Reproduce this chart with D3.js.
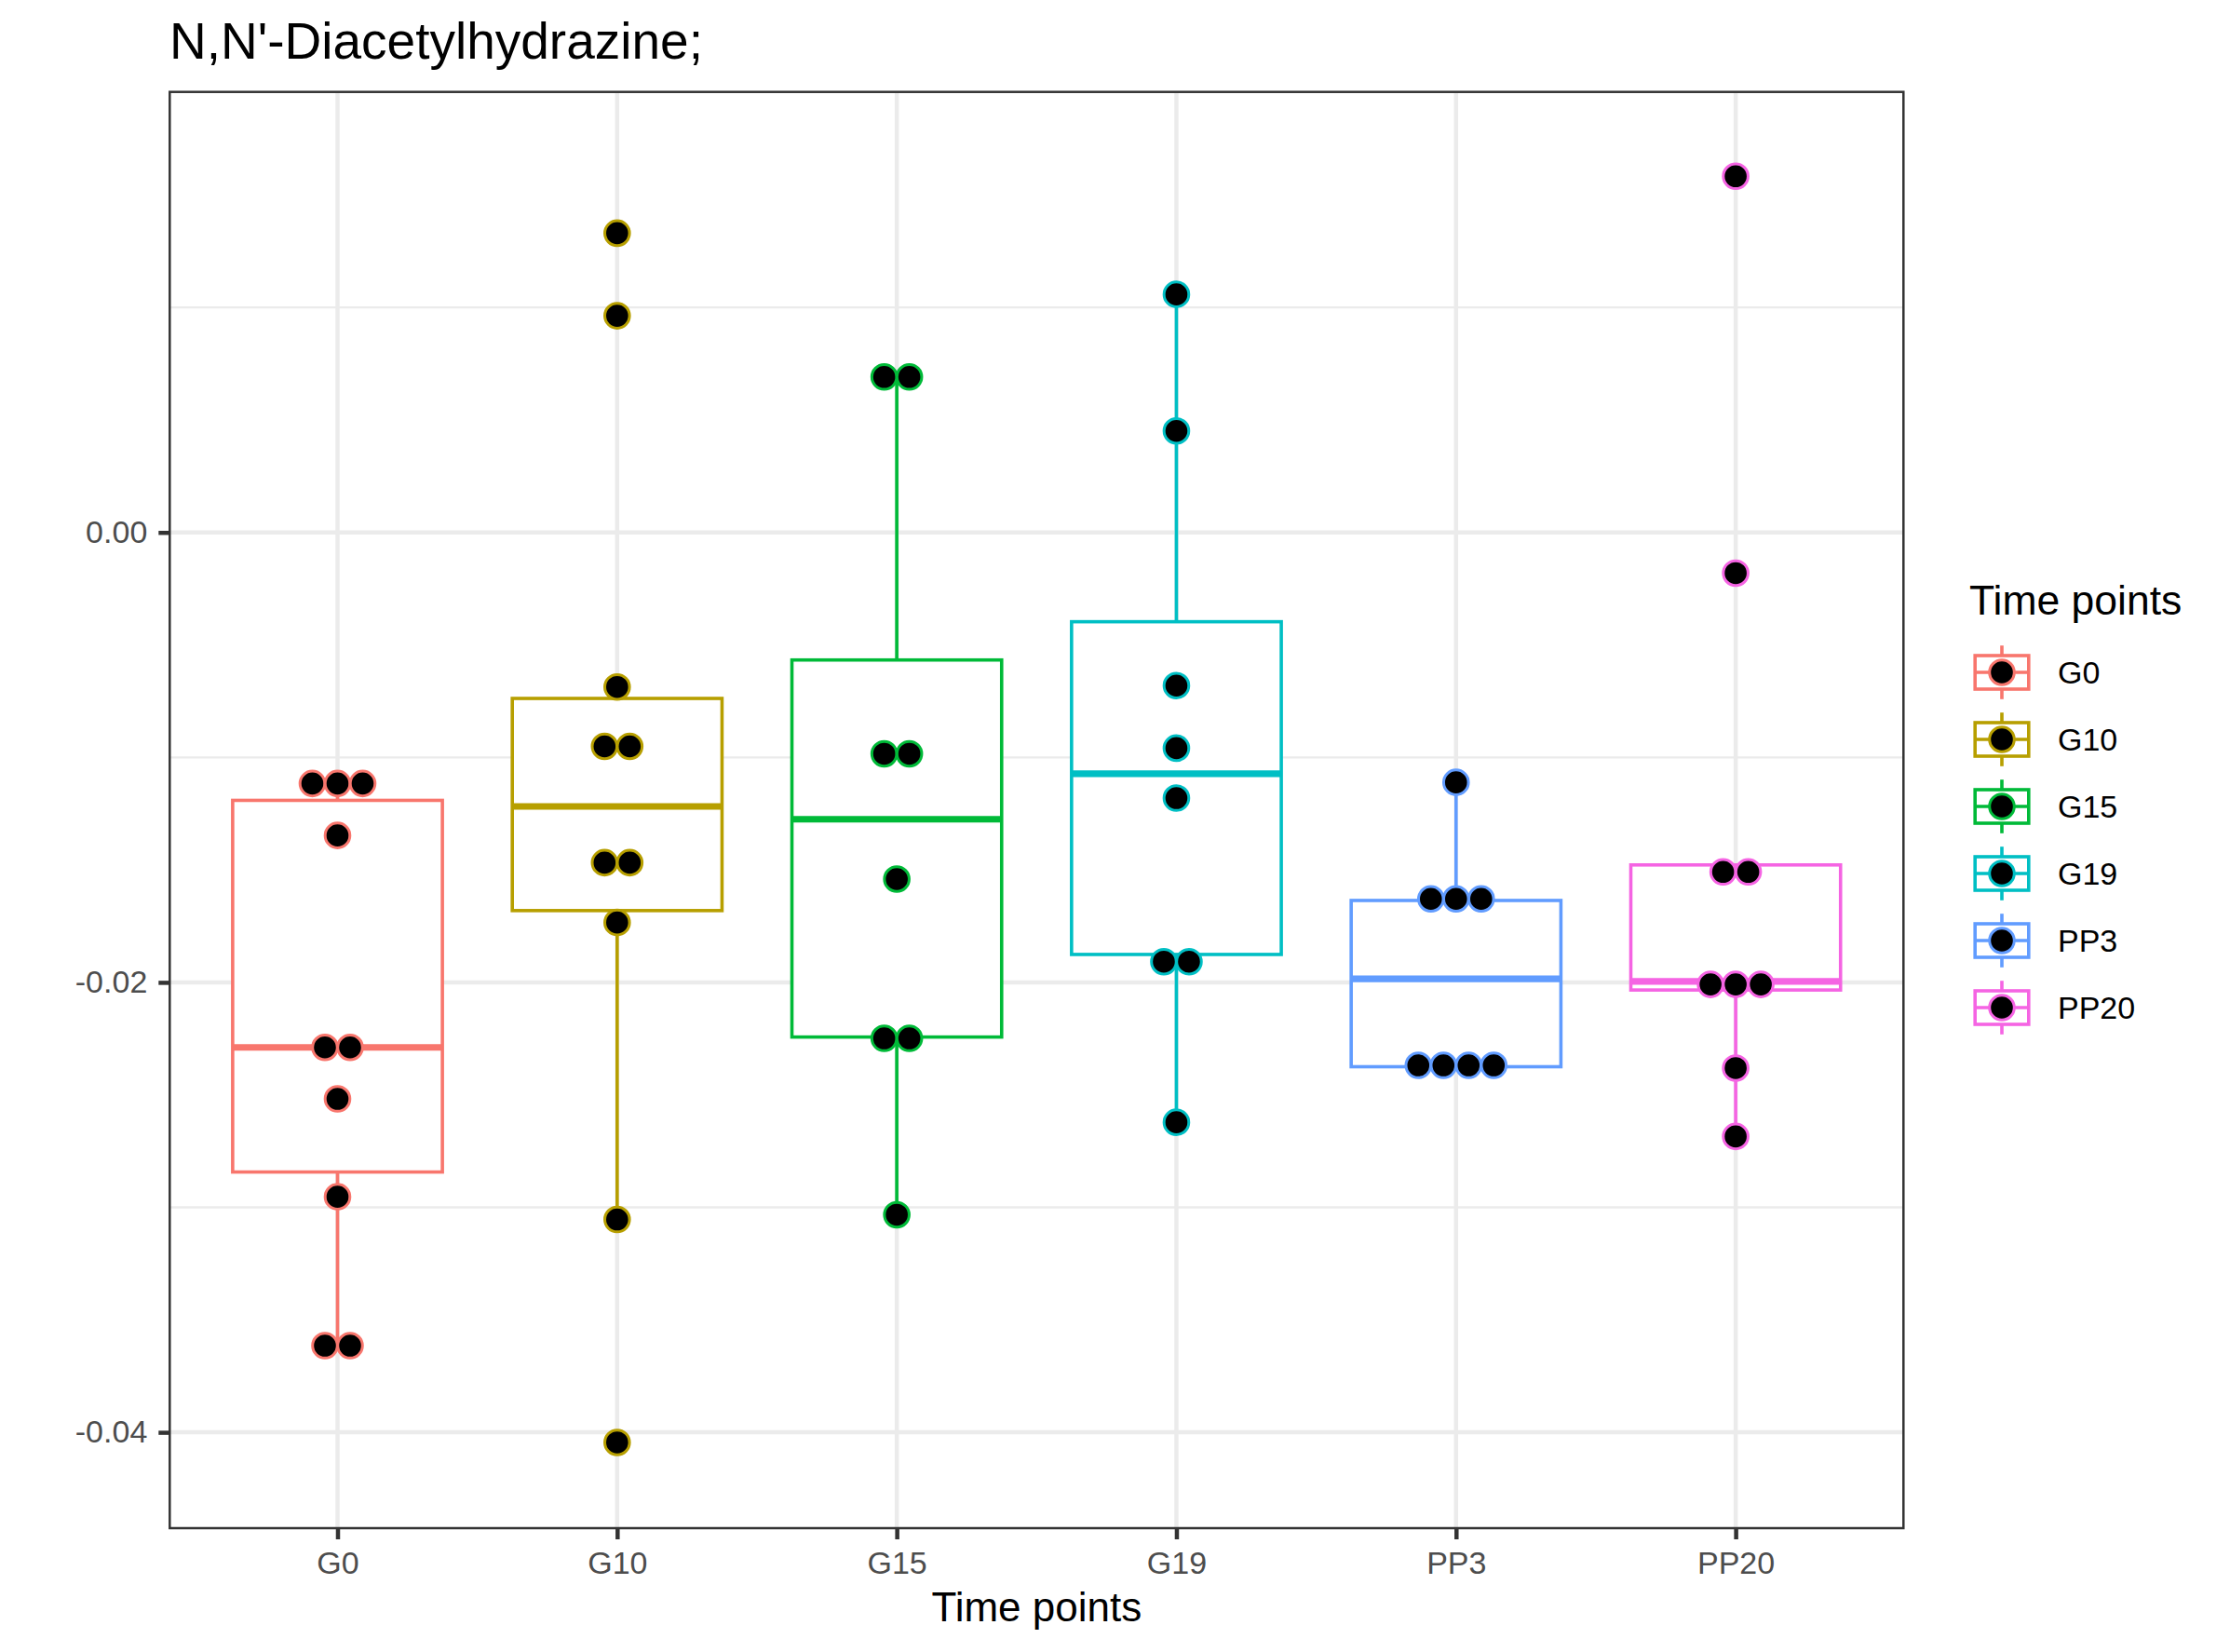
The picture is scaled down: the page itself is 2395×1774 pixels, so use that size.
<!DOCTYPE html>
<html>
<head>
<meta charset="utf-8">
<script src="https://cdn.jsdelivr.net/npm/d3@7"></script>
<style>
  html, body { margin: 0; padding: 0; background: #ffffff; }
  svg { display: block; }
  text { font-family: "Liberation Sans", Arial, Helvetica, sans-serif; }
</style>
</head>
<body>
<svg id="chart" width="2395" height="1774"></svg>
<script>
// ---------------- data ----------------
const categories = ["G0", "G10", "G15", "G19", "PP3", "PP20"];
const groupColors = ["#F8766D", "#B79F00", "#00BA38", "#00BFC4", "#619CFF", "#F564E3"];

const valuesG0   = [-0.01116, -0.01116, -0.01116, -0.01347, -0.02289, -0.02289, -0.02518, -0.02953, -0.03615, -0.03615];
const valuesG10  = [0.01330, 0.00963, -0.00687, -0.00951, -0.00951, -0.01468, -0.01468, -0.01734, -0.03054, -0.04045];
const valuesG15  = [0.00691, 0.00691, -0.00984, -0.00984, -0.01541, -0.02249, -0.02249, -0.03033];
const valuesG19  = [0.01058, 0.00451, -0.00681, -0.00959, -0.01181, -0.01908, -0.01908, -0.02622];
const valuesPP3  = [-0.01111, -0.01629, -0.01629, -0.01629, -0.02369, -0.02369, -0.02369, -0.02369];
const valuesPP20 = [0.01583, -0.00181, -0.01509, -0.01509, -0.02009, -0.02009, -0.02009, -0.02381, -0.02685];

// box statistics
const whiskerLow  = [-0.03615, -0.03054, -0.03033, -0.02622, -0.02369, -0.02685];
const q1          = [-0.02843, -0.01681, -0.02243, -0.01876, -0.02375, -0.02034];
const medians     = [-0.02289, -0.01218, -0.01275, -0.01073, -0.01984, -0.01996];
const q3          = [-0.01191, -0.00738, -0.00567, -0.00397, -0.01636, -0.01478];
const whiskerHigh = [-0.01116, -0.00687, 0.00691, 0.01058, -0.01111, -0.01478];

const yMajorTicks = [-0.04, -0.02, 0.00];
const yTickLabels = ["-0.04", "-0.02", "0.00"];
const yMinorTicks = [-0.03, -0.01, 0.01];

const titleText = "N,N'-Diacetylhydrazine;";
const xTitle = "Time points";
const legendTitle = "Time points";

// ---------------- layout ----------------
const panel = { left: 182.3, right: 2044.3, top: 98.7, bottom: 1641 };
const FONT = '"Liberation Sans", Arial, Helvetica, sans-serif';

const allValues = [valuesG0, valuesG10, valuesG15, valuesG19, valuesPP3, valuesPP20];

const x = d3.scalePoint().domain(categories).range([panel.left, panel.right]).padding(0.6);
const y = d3.scaleLinear().domain([-0.04426, 0.01958]).range([panel.bottom, panel.top]);
const color = d3.scaleOrdinal().domain(categories).range(groupColors);

const svg = d3.select("#chart");
svg.append("rect").attr("width", 2395).attr("height", 1774).attr("fill", "#ffffff");

const g = svg.append("g");

// grid
g.selectAll(".ymin").data(yMinorTicks).join("line")
  .attr("x1", panel.left).attr("x2", panel.right)
  .attr("y1", d => y(d)).attr("y2", d => y(d))
  .attr("stroke", "#EBEBEB").attr("stroke-width", 2.3);
g.selectAll(".ymaj").data(yMajorTicks).join("line")
  .attr("x1", panel.left).attr("x2", panel.right)
  .attr("y1", d => y(d)).attr("y2", d => y(d))
  .attr("stroke", "#EBEBEB").attr("stroke-width", 4.5);
g.selectAll(".xmaj").data(categories).join("line")
  .attr("x1", d => x(d)).attr("x2", d => x(d))
  .attr("y1", panel.top).attr("y2", panel.bottom)
  .attr("stroke", "#EBEBEB").attr("stroke-width", 4.5);

// boxplots
const boxW = x.step() * 0.75;
const LW = 3.6;
const boxData = categories.map((c, i) => ({
  cat: c, lo: whiskerLow[i], q1: q1[i], med: medians[i], q3: q3[i], hi: whiskerHigh[i]
}));
const boxes = g.selectAll(".box").data(boxData).join("g");
boxes.append("line")
  .attr("x1", d => x(d.cat)).attr("x2", d => x(d.cat))
  .attr("y1", d => y(d.q3)).attr("y2", d => y(d.hi))
  .attr("stroke", d => color(d.cat)).attr("stroke-width", LW);
boxes.append("line")
  .attr("x1", d => x(d.cat)).attr("x2", d => x(d.cat))
  .attr("y1", d => y(d.q1)).attr("y2", d => y(d.lo))
  .attr("stroke", d => color(d.cat)).attr("stroke-width", LW);
boxes.append("rect")
  .attr("x", d => x(d.cat) - boxW / 2).attr("width", boxW)
  .attr("y", d => y(d.q3)).attr("height", d => y(d.q1) - y(d.q3))
  .attr("fill", "#ffffff").attr("stroke", d => color(d.cat)).attr("stroke-width", LW)
  .attr("stroke-linejoin", "miter");
boxes.append("line")
  .attr("x1", d => x(d.cat) - boxW / 2).attr("x2", d => x(d.cat) + boxW / 2)
  .attr("y1", d => y(d.med)).attr("y2", d => y(d.med))
  .attr("stroke", d => color(d.cat)).attr("stroke-width", LW * 2);

// dot plot (stacked, centred)
const dotSpacing = 27;
const dotR = 13.3;
const dots = [];
categories.forEach((c, i) => {
  const counts = d3.rollups(allValues[i], v => v.length, v => v);
  counts.forEach(([val, n]) => {
    for (let k = 0; k < n; k++) {
      dots.push({ cat: c, value: val, offset: (k - (n - 1) / 2) * dotSpacing });
    }
  });
});
g.selectAll(".dot").data(dots).join("circle")
  .attr("cx", d => x(d.cat) + d.offset)
  .attr("cy", d => y(d.value))
  .attr("r", dotR)
  .attr("fill", "#000000")
  .attr("stroke", d => color(d.cat))
  .attr("stroke-width", 3);

// panel border
g.append("rect")
  .attr("x", panel.left).attr("y", panel.top)
  .attr("width", panel.right - panel.left).attr("height", panel.bottom - panel.top)
  .attr("fill", "none").attr("stroke", "#333333").attr("stroke-width", 2.5);

// axes
const yAxis = d3.axisLeft(y).tickValues(yMajorTicks).tickSize(12).tickPadding(12)
  .tickFormat((d, i) => yTickLabels[i]);
const ya = svg.append("g").attr("transform", `translate(${panel.left},0)`).call(yAxis);
ya.select(".domain").remove();
ya.selectAll(".tick line").attr("stroke", "#333333").attr("stroke-width", 4.5);
ya.selectAll(".tick text").attr("fill", "#4D4D4D").style("font-size", "34px").style("font-family", FONT)
  .attr("x", -24);

const xAxis = d3.axisBottom(x).tickSize(12).tickPadding(14);
const xa = svg.append("g").attr("transform", `translate(0,${panel.bottom})`).call(xAxis);
xa.select(".domain").remove();
xa.selectAll(".tick line").attr("stroke", "#333333").attr("stroke-width", 4.5);
xa.selectAll(".tick text").attr("fill", "#4D4D4D").style("font-size", "34px").style("font-family", FONT)
  .attr("dy", null).attr("y", 49);

// titles
svg.append("text").attr("x", 182).attr("y", 63).text(titleText)
  .style("font-size", "55px").attr("fill", "#000000");
svg.append("text").attr("x", (panel.left + panel.right) / 2).attr("y", 1741)
  .attr("text-anchor", "middle").text(xTitle)
  .style("font-size", "44px").attr("fill", "#000000");

// legend
const legend = svg.append("g");
legend.append("text").attr("x", 2115).attr("y", 660).text(legendTitle)
  .style("font-size", "44.5px").attr("fill", "#000000");
const keySize = 72;
const keyX = 2114, keyY0 = 686;
const keys = legend.selectAll(".key").data(categories).join("g")
  .attr("transform", (d, i) => `translate(${keyX},${keyY0 + i * keySize})`);
keys.append("line")
  .attr("x1", keySize / 2).attr("x2", keySize / 2)
  .attr("y1", keySize * 0.1).attr("y2", keySize * 0.9)
  .attr("stroke", d => color(d)).attr("stroke-width", LW);
keys.append("rect")
  .attr("x", keySize * 0.1).attr("y", keySize * 0.25)
  .attr("width", keySize * 0.8).attr("height", keySize * 0.5)
  .attr("fill", "#ffffff").attr("stroke", d => color(d)).attr("stroke-width", LW);
keys.append("line")
  .attr("x1", keySize * 0.1).attr("x2", keySize * 0.9)
  .attr("y1", keySize / 2).attr("y2", keySize / 2)
  .attr("stroke", d => color(d)).attr("stroke-width", LW);
keys.append("circle")
  .attr("cx", keySize / 2).attr("cy", keySize / 2).attr("r", dotR)
  .attr("fill", "#000000").attr("stroke", d => color(d)).attr("stroke-width", 3);
keys.append("text")
  .attr("x", 96).attr("y", keySize / 2 + 12).text(d => d)
  .style("font-size", "34px").attr("fill", "#000000");
</script>
</body>
</html>
